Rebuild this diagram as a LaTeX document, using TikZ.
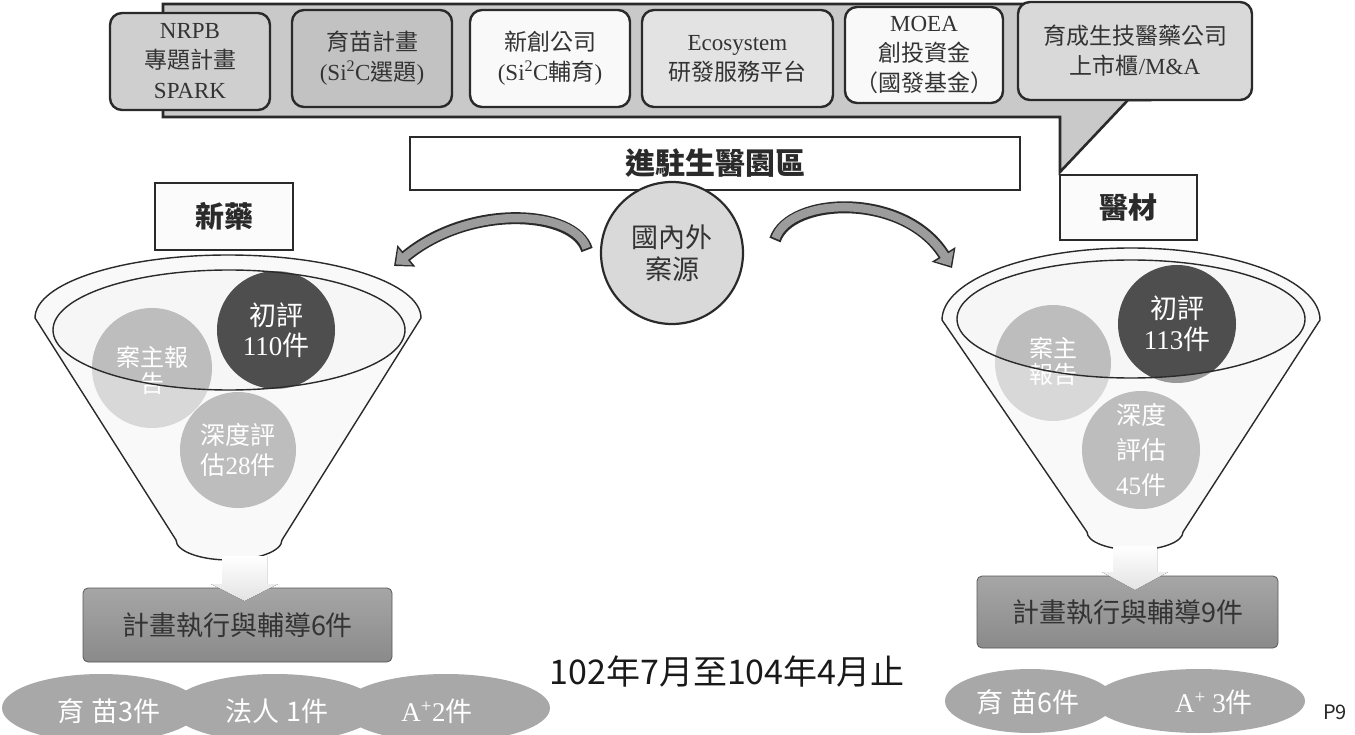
\documentclass[tikz,border=0pt]{standalone}
\usepackage{fontspec}
\setmainfont{Liberation Serif}
\newfontfamily\cj{Noto Sans CJK TC}
\usetikzlibrary{arrows.meta,calc,shapes.geometric}

\definecolor{ink}{HTML}{2A2A2A}
\definecolor{txt}{HTML}{333333}
\definecolor{barfill}{HTML}{C9C9C9}
\definecolor{arrowgray}{HTML}{9C9C9C}
\definecolor{ballA}{HTML}{BDBDBD}
\definecolor{ballB}{HTML}{4E4E4E}
\definecolor{ballC}{HTML}{8E8E8E}
\definecolor{pillgray}{HTML}{A8A8A8}
\definecolor{boxtop}{HTML}{A6A6A6}
\definecolor{boxbot}{HTML}{8A8A8A}

\begin{document}
\begin{tikzpicture}[x=1pt,y=-1pt,
  topbox/.style={draw=ink, line width=2.4pt, rounded corners=12pt, align=center,
    inner sep=0pt, text=txt, font=\fontsize{23}{30}\selectfont},
  framebox/.style={draw=ink, line width=2.4pt, fill=white, inner sep=0pt},
  ball/.style={circle, inner sep=0pt, text=white, align=center,
    font=\fontsize{25}{30}\selectfont},
  pill/.style={ellipse, fill=pillgray, inner sep=0pt},
  pilltext/.style={text=white, font=\fontsize{27}{30}\selectfont},
  stagebox/.style={rounded corners=5pt, draw=gray!70!black, line width=0.8pt,
    top color=boxtop, bottom color=boxbot, text=txt,
    font=\fontsize{27}{30}\selectfont, inner sep=0pt},
  downarrow/.style={top color=white, bottom color=gray!22},
  bandout/.style={line width=12pt, draw=ink, -{Triangle[width=27pt,length=16pt]}},
  bandin/.style={line width=8.4pt, draw=arrowgray, shorten >=2.4pt, shorten <=1.8pt,
    -{Triangle[width=21pt,length=12pt]}},
  funnelline/.style={draw=ink, line width=1.4pt},
  leftcone/.style={insert path={(35,318) arc[start angle=180,end angle=360,x radius=193,y radius=63]
    -- (282,540) arc[start angle=0,end angle=180,x radius=53,y radius=20] -- cycle}},
  rightcone/.style={insert path={(942,320) arc[start angle=180,end angle=360,x radius=189,y radius=72]
    -- (1183,532) arc[start angle=0,end angle=180,x radius=48,y radius=18] -- cycle}},
]
\useasboundingbox (0,0) rectangle (1355,735);
\fill[white] (0,0) rectangle (1355,735);

% ---------- callout band behind the stage boxes ----------
\draw[line width=2.6pt, draw=ink, fill=barfill, line join=miter]
  (163,4) -- (1150,4) -- (1150,100) -- (1128,100) -- (1060,172) -- (1060,117) -- (163,117) -- cycle;

% ---------- stage boxes ----------
\node[topbox, fill=gray!38, minimum width=160pt, minimum height=97pt] (nrpb) at (190,61.5)
  {NRPB\\{\cj 專題計畫}\\SPARK};
\node[topbox, fill=gray!48, minimum width=160pt, minimum height=97pt] (seed) at (372,58.5)
  {{\cj 育苗計畫}\\(Si\textsuperscript{2}C{\cj 選題})};
\node[topbox, fill=gray!5, minimum width=160pt, minimum height=97pt] (startup) at (550,58.5)
  {{\cj 新創公司}\\(Si\textsuperscript{2}C{\cj 輔育})};
\node[topbox, fill=gray!22, minimum width=191pt, minimum height=97pt] (eco) at (737.5,58.5)
  {Ecosystem\\{\cj 研發服務平台}};
\node[topbox, fill=gray!5, minimum width=158pt, minimum height=96pt] (moea) at (924,55)
  {MOEA\\{\cj 創投資金}\\{\cj （國發基金）}};
\node[topbox, fill=gray!30, minimum width=234pt, minimum height=98pt] (ipo) at (1135,51)
  {{\cj 育成生技醫藥公司}\\{\cj 上市櫃}/M\&A};

% ---------- park banner and categories ----------
\node[framebox, minimum width=610pt, minimum height=53pt, font=\cj\bfseries\fontsize{30}{32}\selectfont,
  text=ink] (park) at (715,163.5) {進駐生醫園區};
\node[framebox, fill=gray!3, minimum width=138pt, minimum height=67pt, font=\cj\bfseries\fontsize{29}{32}\selectfont,
  text=ink] (drug) at (224,216.5) {新藥};
\node[framebox, fill=gray!3, minimum width=137pt, minimum height=65pt, font=\cj\bfseries\fontsize{29}{32}\selectfont,
  text=ink] (device) at (1128.5,207.5) {醫材};

% ---------- case source ----------
\node[circle, draw=ink, line width=2.2pt, fill=gray!30, minimum size=142pt, inner sep=0pt,
  align=center, text=txt, font=\cj\fontsize{27}{32}\selectfont] (src) at (672,253) {國內外\\案源};

% ---------- curved arrows to both funnels ----------
\coordinate (la0) at (587,250);
\coordinate (la1) at (394,266);
\coordinate (ra0) at (775,240);
\coordinate (ra1) at (952,268);
\draw[bandout] (la0) .. controls (575,210) and (470,203) .. (la1);
\draw[bandin]  (la0) .. controls (575,210) and (470,203) .. (la1);
\draw[bandout] (ra0) .. controls (790,196) and (905,192) .. (ra1);
\draw[bandin]  (ra0) .. controls (790,196) and (905,192) .. (ra1);

% ---------- left funnel ----------
\fill[gray!7] [leftcone];
\node[ball, fill=ballA, minimum size=120pt] (lb1) at (152,368) {};
\node[text=white, align=center, font=\cj\fontsize{24}{26}\selectfont] (lb1t) at (152,370) {案主報\\告};
\node[ball, fill=ballB, minimum size=118pt, font=\fontsize{27}{30}\selectfont] (lb2) at (276,330)
  {{\cj 初評}\\110{\cj 件}};
\node[ball, fill=ballC, minimum size=116pt] (lb3) at (238,450)
  {{\cj 深度評}\\{\cj 估}28{\cj 件}};
\fill[white, opacity=0.42, even odd rule] [leftcone] (229,330) ellipse[x radius=176, y radius=60];
\draw[funnelline] [leftcone];
\draw[funnelline] (229,330) ellipse[x radius=176, y radius=60];

% ---------- right funnel ----------
\fill[gray!7] [rightcone];
\node[ball, fill=ballA, minimum size=116pt] (rb1) at (1053,363) {};
\node[text=white, align=center, font=\cj\fontsize{24}{26}\selectfont] (rb1t) at (1053,361) {案主\\報告};
\node[ball, fill=ballB, minimum size=118pt, font=\fontsize{27}{31}\selectfont] (rb2) at (1177,324)
  {{\cj 初評}\\113{\cj 件}};
\node[ball, fill=ballC, minimum size=118pt, font=\fontsize{25}{35}\selectfont] (rb3) at (1141,450)
  {{\cj 深度}\\{\cj 評估}\\45{\cj 件}};
\fill[white, opacity=0.42, even odd rule] [rightcone] (1131,319) ellipse[x radius=174, y radius=59];
\draw[funnelline] [rightcone];
\draw[funnelline] (1131,319) ellipse[x radius=174, y radius=59];

% ---------- results ----------
\node[stagebox, minimum width=309pt, minimum height=74pt] (lexec) at (237.5,625)
  {\cj 計畫執行與輔導6件};
\node[stagebox, minimum width=301pt, minimum height=72pt] (rexec) at (1127.5,612)
  {\cj 計畫執行與輔導9件};
\fill[downarrow] (222,556) -- (267,556) -- (267,584) -- (278,584) -- (244.5,601) -- (211,584) -- (222,584) -- cycle;
\fill[downarrow] (1113,546) -- (1157,546) -- (1157,572) -- (1168,572) -- (1135,590) -- (1102,572) -- (1113,572) -- cycle;

\node[pill, minimum width=198pt, minimum height=68pt] (lp1) at (101,708) {};
\node[pill, minimum width=208pt, minimum height=68pt] (lp2) at (275,708) {};
\node[pill, minimum width=208pt, minimum height=68pt] (lp3) at (446,708) {};
\node[pilltext] at (109,711) {\cj 育 苗3件};
\node[pilltext] at (277,711) {\cj 法人 1件};
\node[pilltext] at (437,711) {A\textsuperscript{+}2{\cj 件}};

\node[pill, minimum width=170pt, minimum height=64pt] (rp1) at (1030,701) {};
\node[pill, minimum width=212pt, minimum height=64pt] (rp2) at (1199,701) {};
\node[pilltext] at (1028,702) {\cj 育 苗6件};
\node[pilltext] at (1214,702) {A\textsuperscript{+} 3{\cj 件}};

% ---------- period and page ----------
\node[text=black!90, font=\cj\fontsize{34}{36}\selectfont] (period) at (727,672) {102年7月至104年4月止};
\node[text=black!85, font=\cj\fontsize{20}{22}\selectfont] (page) at (1335,712) {P9};
\end{tikzpicture}
\end{document}
